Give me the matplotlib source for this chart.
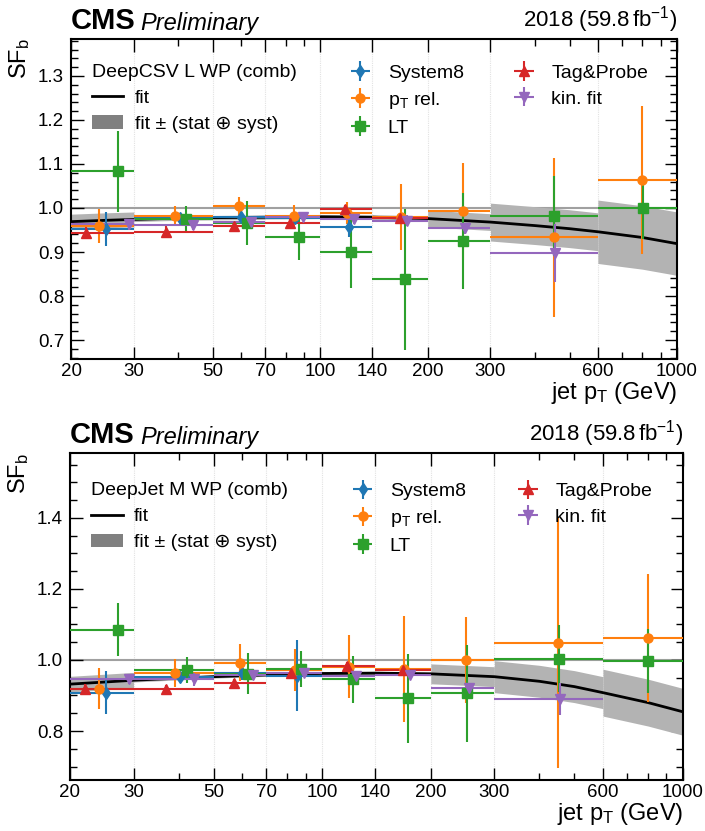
import numpy as np
import matplotlib.pyplot as plt
from matplotlib.lines import Line2D
from matplotlib.patches import Patch
from matplotlib.ticker import AutoMinorLocator, LogLocator, NullFormatter

plt.rcParams['font.family'] = ['Liberation Sans', 'DejaVu Sans']
plt.rcParams['mathtext.fontset'] = 'custom'
plt.rcParams['mathtext.rm'] = 'Liberation Sans'
plt.rcParams['mathtext.it'] = 'Liberation Sans:italic'
plt.rcParams['mathtext.bf'] = 'Liberation Sans:bold'

# jet pT binning
bin_edges = [20, 30, 50, 70, 100, 140, 200, 300, 600, 1000]
pt_ticks = [20, 30, 50, 70, 100, 140, 200, 300, 600, 1000]

# mean pT of each method inside the bins (same for both working points)
s8_pt = [25.1, 40.3, 60.1, 85.1, 120.2]
ptrel_pt = [24.0, 39.2, 59.0, 84.2, 119.0, 168.8, 250.4, 451, 798]
lt_pt = [27.1, 42.1, 62.3, 87.4, 122.1, 172.4, 252.0, 453, 801]
tnp_pt = [22.0, 37.0, 57.1, 82.1, 117.1, 167.2]
kin_pt = [29.1, 44.1, 64.1, 89.3, 124.2, 174.6, 254.6, 456]

# DeepCSV loose WP
csvl_s8 = [0.953, 0.978, 0.980, 0.977, 0.956]
csvl_s8_err = [0.039, 0.010, 0.015, 0.010, 0.023]
csvl_ptrel = [0.959, 0.982, 1.005, 0.982, 0.989, 0.980, 0.993, 0.933, 1.064]
csvl_ptrel_err = [0.038, 0.022, 0.020, 0.024, 0.025, 0.075, 0.110, 0.180, 0.168]
csvl_lt = [1.083, 0.975, 0.965, 0.933, 0.899, 0.838, 0.925, 0.982, 0.999]
csvl_lt_err = [0.093, 0.030, 0.050, 0.050, 0.080, 0.160, 0.110, 0.090, 0.070]
csvl_tnp = [0.944, 0.946, 0.959, 0.967, 0.997, 0.978]
csvl_tnp_err = [0.012, 0.013, 0.012, 0.008, 0.010, 0.010]
csvl_kin = [0.963, 0.961, 0.969, 0.979, 0.974, 0.971, 0.954, 0.898]
csvl_kin_err = [0.013, 0.012, 0.010, 0.008, 0.010, 0.012, 0.012, 0.065]

# DeepJet medium WP
djm_s8 = [0.908, 0.951, 0.964, 0.955]
djm_s8_err = [0.060, 0.012, 0.020, 0.100]
djm_ptrel = [0.919, 0.964, 0.992, 0.972, 0.981, 0.974, 1.000, 1.049, 1.061]
djm_ptrel_err = [0.058, 0.040, 0.052, 0.058, 0.089, 0.150, 0.120, 0.352, 0.180]
djm_lt = [1.085, 0.972, 0.961, 0.974, 0.946, 0.892, 0.906, 1.004, 0.998]
djm_lt_err = [0.075, 0.037, 0.058, 0.050, 0.066, 0.126, 0.136, 0.095, 0.090]
djm_tnp = [0.917, 0.917, 0.934, 0.962, 0.983, 0.972]
djm_tnp_err = [0.014, 0.012, 0.012, 0.010, 0.010, 0.012]
djm_kin = [0.946, 0.946, 0.958, 0.964, 0.955, 0.958, 0.920, 0.890]
djm_kin_err = [0.015, 0.018, 0.012, 0.010, 0.010, 0.012, 0.015, 0.045]

# combined fit and its per-bin uncertainty
fit_pt = [20, 25, 30, 40, 50, 70, 100, 140, 200, 300, 400, 500, 600, 800, 1000]
csvl_fit = [0.969, 0.972, 0.974, 0.977, 0.978, 0.979, 0.980, 0.979, 0.976,
            0.968, 0.960, 0.953, 0.946, 0.933, 0.919]
csvl_band = [0.017, 0.005, 0.005, 0.004, 0.005, 0.006, 0.019, 0.043, 0.072]
djm_fit = [0.932, 0.938, 0.943, 0.949, 0.953, 0.958, 0.962, 0.963, 0.961,
           0.953, 0.940, 0.925, 0.908, 0.880, 0.854]
djm_band = [0.022, 0.005, 0.004, 0.004, 0.004, 0.005, 0.028, 0.045, 0.066]

def draw_panel(ax, wp, fit, band, s8, s8e, ptrel, ptrele, lt, lte, tnp, tnpe, kin, kine,
               ylim, leg_y):
    edges = np.array(bin_edges, dtype=float)
    fx = np.array(fit_pt, dtype=float)
    fy = np.array(fit)

    for e in bin_edges[1:-1]:
        ax.axvline(e, color='#e2e2e2', lw=0.8, ls=(0, (1, 1)), zorder=0)
    ax.axhline(1.0, color='#a0a0a0', lw=1.5, zorder=1)

    for i in range(len(edges) - 1):
        m = (fx >= edges[i]) & (fx <= edges[i + 1])
        ax.fill_between(fx[m], fy[m] - band[i], fy[m] + band[i],
                        color='#b3b3b3', lw=0, zorder=2)
    ax.plot(fx, fy, color='black', lw=2, zorder=3)

    series = [
        (s8_pt, s8, s8e, 'd', 'tab:blue'),
        (ptrel_pt, ptrel, ptrele, 'o', 'tab:orange'),
        (lt_pt, lt, lte, 's', 'tab:green'),
        (tnp_pt, tnp, tnpe, '^', 'tab:red'),
        (kin_pt, kin, kine, 'v', 'tab:purple'),
    ]
    handles = []
    for xs, ys, es, mk, c in series:
        n = len(ys)
        x = np.array(xs[:n])
        lo = x - edges[:n]
        hi = edges[1:n + 1] - x
        h = ax.errorbar(x, ys, xerr=[lo, hi], yerr=es, fmt=mk, color=c,
                        ms=6.5, elinewidth=1.5, capsize=0, zorder=4)
        handles.append(h)

    ax.set_xscale('log')
    ax.set_xlim(20, 1000)
    ax.set_ylim(*ylim)
    ax.set_xticks(pt_ticks, labels=[str(t) for t in pt_ticks])
    ax.xaxis.set_minor_locator(LogLocator(base=10, subs=np.arange(2, 10)))
    ax.xaxis.set_minor_formatter(NullFormatter())
    ax.yaxis.set_minor_locator(AutoMinorLocator())
    ax.tick_params(which='both', direction='in', top=True, right=True, labelsize=13.5)
    ax.tick_params(which='major', length=9, width=1)
    ax.tick_params(axis='x', which='major', pad=3)
    ax.tick_params(axis='y', which='major', pad=5)
    ax.tick_params(which='minor', length=5, width=1)
    for s in ax.spines.values():
        s.set_linewidth(1.5)

    ax.set_ylabel(r'SF$_\mathrm{b}$', fontsize=17, loc='top')
    ax.set_xlabel(r'jet p$_\mathrm{T}$ (GeV)', fontsize=17, loc='right', labelpad=0)

    ax.text(0, 1.012, 'CMS', transform=ax.transAxes, fontsize=21,
            fontweight='bold', ha='left', va='bottom')
    ax.text(0.115, 1.012, 'Preliminary', transform=ax.transAxes, fontsize=17,
            style='italic', ha='left', va='bottom')
    ax.text(1.0, 1.012, r'2018 (59.8$\,$fb$^{-1}$)', transform=ax.transAxes,
            fontsize=16, ha='right', va='bottom')

    fit_h = Line2D([], [], color='black', lw=2)
    band_h = Patch(facecolor='#808080', edgecolor='none')
    kw = dict(frameon=False, fontsize=14, borderpad=0, borderaxespad=0,
              labelspacing=0.42, handlelength=1.6, handletextpad=0.6, loc='upper left')
    leg1 = ax.legend([fit_h, band_h], ['fit', 'fit ± (stat ⊕ syst)'],
                     title=wp, title_fontsize=14, alignment='left',
                     bbox_to_anchor=(0.035, leg_y), **kw)
    leg1._legend_box.sep = 6
    ax.add_artist(leg1)
    leg2 = ax.legend(handles[:3], ['System8', r'p$_\mathrm{T}$ rel.', 'LT'],
                     bbox_to_anchor=(0.452, leg_y), **kw)
    ax.add_artist(leg2)
    ax.legend(handles[3:], ['Tag&Probe', 'kin. fit'],
              bbox_to_anchor=(0.722, leg_y), **kw)


fig = plt.figure(figsize=(7.05, 8.31), dpi=100)
ax1 = fig.add_axes([71 / 705, 1 - 359 / 831, 606 / 705, 320.5 / 831])
ax2 = fig.add_axes([70 / 705, 1 - 780 / 831, 613 / 705, 327 / 831])

draw_panel(ax1, 'DeepCSV L WP (comb)', csvl_fit, csvl_band,
           csvl_s8, csvl_s8_err, csvl_ptrel, csvl_ptrel_err, csvl_lt, csvl_lt_err,
           csvl_tnp, csvl_tnp_err, csvl_kin, csvl_kin_err, (0.657, 1.385), 0.92)
draw_panel(ax2, 'DeepJet M WP (comb)', djm_fit, djm_band,
           djm_s8, djm_s8_err, djm_ptrel, djm_ptrel_err, djm_lt, djm_lt_err,
           djm_tnp, djm_tnp_err, djm_kin, djm_kin_err, (0.662, 1.583), 0.91)

fig.savefig('out.png', dpi=100)
